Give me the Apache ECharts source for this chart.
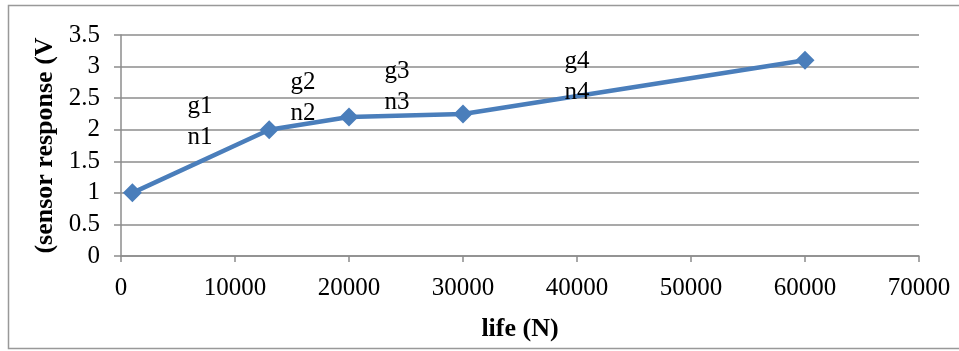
<!DOCTYPE html>
<html>
<head>
<meta charset="utf-8">
<script src="https://cdn.jsdelivr.net/npm/echarts@6/dist/echarts.min.js"></script>
<style>
  html, body { margin: 0; padding: 0; background: #fff; }
  #chart { width: 959px; height: 351px; }
</style>
</head>
<body>
<div id="chart"></div>
<script>
// data
var lifeValues = [1000, 13000, 20000, 30000, 60000]
var sensorValues = [1, 2, 2.2, 2.25, 3.1]

// text notes placed in data space (life, response)
var noteTexts = ['g1\nn1', 'g2\nn2', 'g3\nn3', 'g4\nn4']
var noteLife = [6930, 15960, 24200, 40000]
var noteResponse = [2.12, 2.51, 2.68, 2.83]

var chart = echarts.init(document.getElementById('chart'))

var font = '"Liberation Serif", "DejaVu Serif", serif'
var grey = '#8c8c8c'

var lineData = lifeValues.map(function (v, i) { return [v, sensorValues[i]] })
var noteData = noteTexts.map(function (t, i) {
  return { name: t, value: [noteLife[i], noteResponse[i]] }
})

var option = {
  animation: false,
  backgroundColor: '#fff',
  grid: {
    left: 121,
    top: 35,
    width: 798,
    height: 221
  },
  xAxis: {
    type: 'value',
    min: 0,
    max: 70000,
    interval: 10000,
    name: 'life (N)',
    nameLocation: 'middle',
    nameGap: 60,
    nameTextStyle: {
      fontFamily: font,
      fontSize: 26,
      fontWeight: 'bold',
      color: '#000'
    },
    axisLine: { show: true, lineStyle: { color: grey, width: 1.5 } },
    axisTick: { show: true, length: 6, lineStyle: { color: grey, width: 1.5 } },
    splitLine: { show: false },
    axisLabel: {
      fontFamily: font,
      fontSize: 25,
      color: '#000',
      margin: 20,
      formatter: function (v) { return String(v) }
    }
  },
  yAxis: {
    type: 'value',
    min: 0,
    max: 3.5,
    interval: 0.5,
    name: '(sensor response (V',
    nameLocation: 'middle',
    nameRotate: 90,
    nameGap: 58,
    nameTextStyle: {
      fontFamily: font,
      fontSize: 26,
      fontWeight: 'bold',
      color: '#000'
    },
    axisLine: { show: true, lineStyle: { color: grey, width: 1.5 } },
    axisTick: { show: true, length: 7, lineStyle: { color: grey, width: 1.5 } },
    splitLine: { show: true, lineStyle: { color: grey, width: 1.5 } },
    axisLabel: {
      fontFamily: font,
      fontSize: 25,
      color: '#000',
      margin: 21
    }
  },
  series: [
    {
      type: 'line',
      data: lineData,
      symbol: 'diamond',
      symbolSize: 19,
      itemStyle: { color: '#4a7ebb' },
      lineStyle: { color: '#4a7ebb', width: 4.5 },
      z: 3
    },
    {
      // text notes g1..g4 / n1..n4
      type: 'scatter',
      data: noteData,
      symbolSize: 0,
      itemStyle: { opacity: 1 },
      label: {
        show: true,
        position: 'inside',
        formatter: function (p) { return p.name },
        fontFamily: font,
        fontSize: 25,
        lineHeight: 31,
        color: '#000',
        textBorderWidth: 0,
        align: 'center'
      },
      z: 4
    }
  ],
  graphic: [
    {
      type: 'rect',
      shape: { x: 8.5, y: 5.5, width: 970, height: 343 },
      style: { fill: 'none', stroke: '#999', lineWidth: 1.5 },
      silent: true
    }
  ]
}

chart.setOption(option)
</script>
</body>
</html>
